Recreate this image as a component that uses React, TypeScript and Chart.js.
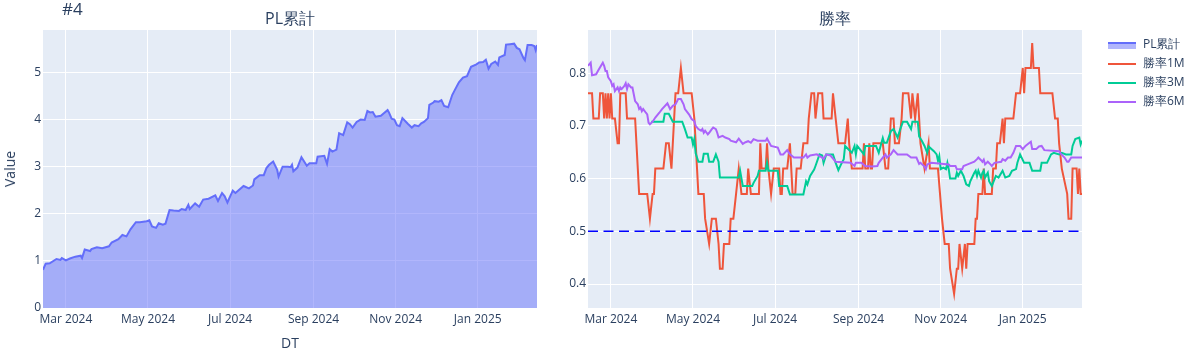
import React, { useEffect, useRef } from 'react';
import { Chart, registerables } from 'chart.js';

Chart.register(...registerables);

// ---------------- data ----------------
const X_RANGE = ['2024-02-13', '2025-02-14'];
const X_TICKS = ['2024-03-01', '2024-05-01', '2024-07-01', '2024-09-01', '2024-11-01', '2025-01-01'];
const PL_Y_TICKS = [0, 1, 2, 3, 4, 5];
const PL_Y_MAX = 5.9;
const WR_Y_TICKS = [0.4, 0.5, 0.6, 0.7, 0.8];
const WR_Y_RANGE = [0.3545, 0.882];
const REF_LINE = 0.5;

const PL_DATES = [
  '2024-02-13', '2024-02-15', '2024-02-18', '2024-02-23', '2024-02-26', '2024-02-27', '2024-03-01', '2024-03-04', '2024-03-08', '2024-03-12',
  '2024-03-13', '2024-03-15', '2024-03-19', '2024-03-20', '2024-03-24', '2024-03-28', '2024-04-02', '2024-04-04', '2024-04-09', '2024-04-12',
  '2024-04-15', '2024-04-18', '2024-04-22', '2024-04-25', '2024-04-30', '2024-05-02', '2024-05-04', '2024-05-07', '2024-05-09', '2024-05-12',
  '2024-05-14', '2024-05-17', '2024-05-20', '2024-05-24', '2024-05-26', '2024-05-29', '2024-05-31', '2024-06-01', '2024-06-05', '2024-06-08',
  '2024-06-11', '2024-06-15', '2024-06-20', '2024-06-22', '2024-06-25', '2024-06-27', '2024-06-29', '2024-07-03', '2024-07-05', '2024-07-11',
  '2024-07-15', '2024-07-18', '2024-07-19', '2024-07-23', '2024-07-26', '2024-07-28', '2024-07-30', '2024-08-02', '2024-08-05', '2024-08-06',
  '2024-08-09', '2024-08-13', '2024-08-15', '2024-08-16', '2024-08-17', '2024-08-20', '2024-08-23', '2024-08-27', '2024-08-29', '2024-09-03',
  '2024-09-04', '2024-09-09', '2024-09-11', '2024-09-13', '2024-09-15', '2024-09-18', '2024-09-20', '2024-09-23', '2024-09-26', '2024-09-28',
  '2024-09-30', '2024-10-03', '2024-10-06', '2024-10-09', '2024-10-11', '2024-10-13', '2024-10-15', '2024-10-17', '2024-10-21', '2024-10-23',
  '2024-10-26', '2024-10-27', '2024-10-29', '2024-10-31', '2024-11-02', '2024-11-04', '2024-11-06', '2024-11-10', '2024-11-13', '2024-11-15',
  '2024-11-18', '2024-11-20', '2024-11-22', '2024-11-25', '2024-11-26', '2024-11-29', '2024-11-30', '2024-12-03', '2024-12-05', '2024-12-07',
  '2024-12-10', '2024-12-13', '2024-12-15', '2024-12-18', '2024-12-21', '2024-12-24', '2024-12-27', '2024-12-31', '2025-01-02', '2025-01-05',
  '2025-01-07', '2025-01-09', '2025-01-11', '2025-01-14', '2025-01-16', '2025-01-17', '2025-01-21', '2025-01-22', '2025-01-25', '2025-01-28',
  '2025-01-30', '2025-02-01', '2025-02-04', '2025-02-05', '2025-02-07', '2025-02-10', '2025-02-12', '2025-02-13', '2025-02-14',
];
const PL_VALUES = [
  0.81, 0.94, 0.95, 1.04, 1.02, 1.06, 1.01, 1.05, 1.09, 1.11,
  1.06, 1.24, 1.21, 1.25, 1.29, 1.27, 1.31, 1.39, 1.46, 1.55,
  1.52, 1.67, 1.82, 1.82, 1.84, 1.86, 1.73, 1.70, 1.80, 1.77,
  1.79, 2.08, 2.07, 2.06, 2.10, 2.08, 2.19, 2.10, 2.22, 2.15,
  2.30, 2.32, 2.39, 2.27, 2.44, 2.37, 2.24, 2.49, 2.44, 2.59,
  2.54, 2.60, 2.73, 2.82, 2.82, 2.97, 3.04, 3.11, 2.93, 2.79,
  3.00, 3.00, 2.99, 3.04, 2.90, 2.98, 3.20, 3.02, 3.07, 3.07,
  3.21, 3.23, 3.06, 3.37, 3.32, 3.36, 3.71, 3.67, 3.94, 3.90,
  3.83, 3.95, 4.00, 3.99, 4.18, 4.15, 4.16, 4.06, 4.08, 4.13,
  4.20, 4.15, 4.02, 4.00, 3.88, 3.86, 4.03, 3.91, 3.83, 3.88,
  3.86, 3.92, 3.95, 4.03, 4.31, 4.36, 4.39, 4.38, 4.41, 4.29,
  4.26, 4.52, 4.63, 4.79, 4.89, 4.92, 5.12, 5.17, 5.21, 5.22,
  5.27, 5.08, 5.18, 5.23, 5.16, 5.32, 5.37, 5.59, 5.60, 5.61,
  5.52, 5.49, 5.30, 5.26, 5.58, 5.58, 5.56, 5.47, 5.58,
];

const WR1M_DATES = [
  '2024-02-13', '2024-02-16', '2024-02-17', '2024-02-21', '2024-02-22', '2024-02-24', '2024-02-25', '2024-02-26', '2024-02-27', '2024-02-28',
  '2024-02-29', '2024-03-01', '2024-03-02', '2024-03-04', '2024-03-06', '2024-03-07', '2024-03-08', '2024-03-12', '2024-03-13', '2024-03-19',
  '2024-03-21', '2024-03-22', '2024-03-28', '2024-03-30', '2024-04-01', '2024-04-02', '2024-04-03', '2024-04-09', '2024-04-11', '2024-04-13',
  '2024-04-15', '2024-04-17', '2024-04-18', '2024-04-20', '2024-04-22', '2024-04-24', '2024-04-30', '2024-05-02', '2024-05-03', '2024-05-04',
  '2024-05-05', '2024-05-09', '2024-05-10', '2024-05-13', '2024-05-15', '2024-05-18', '2024-05-20', '2024-05-21', '2024-05-23', '2024-05-24',
  '2024-05-28', '2024-05-29', '2024-05-31', '2024-06-02', '2024-06-04', '2024-06-06', '2024-06-10', '2024-06-11', '2024-06-13', '2024-06-19',
  '2024-06-20', '2024-06-21', '2024-06-24', '2024-06-25', '2024-06-26', '2024-06-28', '2024-06-30', '2024-07-04', '2024-07-05', '2024-07-06',
  '2024-07-07', '2024-07-10', '2024-07-12', '2024-07-13', '2024-07-14', '2024-07-16', '2024-07-17', '2024-07-20', '2024-07-22', '2024-07-25',
  '2024-07-26', '2024-07-28', '2024-07-30', '2024-07-31', '2024-08-02', '2024-08-05', '2024-08-06', '2024-08-12', '2024-08-13', '2024-08-15',
  '2024-08-17', '2024-08-22', '2024-08-24', '2024-08-25', '2024-08-27', '2024-09-04', '2024-09-05', '2024-09-06', '2024-09-08', '2024-09-09',
  '2024-09-10', '2024-09-11', '2024-09-12', '2024-09-19', '2024-09-21', '2024-09-23', '2024-09-25', '2024-09-27', '2024-09-28', '2024-10-01',
  '2024-10-03', '2024-10-04', '2024-10-08', '2024-10-10', '2024-10-11', '2024-10-13', '2024-10-15', '2024-10-17', '2024-10-20', '2024-10-23',
  '2024-10-24', '2024-10-30', '2024-11-02', '2024-11-04', '2024-11-07', '2024-11-08', '2024-11-11', '2024-11-13', '2024-11-14', '2024-11-15',
  '2024-11-17', '2024-11-19', '2024-11-20', '2024-11-21', '2024-11-26', '2024-11-27', '2024-11-28', '2024-11-29', '2024-12-02', '2024-12-03',
  '2024-12-04', '2024-12-09', '2024-12-10', '2024-12-12', '2024-12-13', '2024-12-15', '2024-12-17', '2024-12-18', '2024-12-19', '2024-12-25',
  '2024-12-27', '2024-12-30', '2025-01-01', '2025-01-02', '2025-01-03', '2025-01-07', '2025-01-08', '2025-01-09', '2025-01-13', '2025-01-14',
  '2025-01-23', '2025-01-25', '2025-01-27', '2025-01-28', '2025-01-30', '2025-02-03', '2025-02-04', '2025-02-06', '2025-02-07', '2025-02-10',
  '2025-02-11', '2025-02-12', '2025-02-13', '2025-02-14',
];
const WR1M_VALUES = [
  0.762, 0.762, 0.714, 0.714, 0.762, 0.762, 0.714, 0.762, 0.714, 0.762,
  0.714, 0.762, 0.714, 0.714, 0.667, 0.667, 0.762, 0.762, 0.714, 0.714,
  0.619, 0.571, 0.571, 0.524, 0.571, 0.571, 0.619, 0.619, 0.667, 0.667,
  0.619, 0.714, 0.762, 0.762, 0.810, 0.762, 0.762, 0.714, 0.667, 0.619,
  0.571, 0.571, 0.524, 0.476, 0.524, 0.524, 0.476, 0.429, 0.429, 0.476,
  0.476, 0.524, 0.524, 0.571, 0.619, 0.571, 0.571, 0.619, 0.571, 0.571,
  0.667, 0.619, 0.619, 0.667, 0.619, 0.571, 0.619, 0.619, 0.571, 0.571,
  0.619, 0.619, 0.667, 0.619, 0.571, 0.571, 0.619, 0.619, 0.667, 0.667,
  0.714, 0.762, 0.762, 0.714, 0.762, 0.762, 0.714, 0.714, 0.762, 0.714,
  0.667, 0.667, 0.714, 0.667, 0.619, 0.619, 0.667, 0.619, 0.619, 0.667,
  0.619, 0.619, 0.667, 0.667, 0.619, 0.619, 0.714, 0.714, 0.667, 0.667,
  0.714, 0.762, 0.762, 0.714, 0.762, 0.714, 0.762, 0.667, 0.619, 0.667,
  0.619, 0.619, 0.524, 0.476, 0.476, 0.429, 0.381, 0.429, 0.429, 0.476,
  0.429, 0.476, 0.429, 0.476, 0.476, 0.524, 0.524, 0.571, 0.571, 0.619,
  0.571, 0.571, 0.619, 0.619, 0.667, 0.667, 0.714, 0.667, 0.714, 0.714,
  0.762, 0.762, 0.810, 0.762, 0.810, 0.810, 0.857, 0.810, 0.810, 0.762,
  0.762, 0.714, 0.714, 0.667, 0.619, 0.571, 0.524, 0.524, 0.619, 0.619,
  0.571, 0.619, 0.571, 0.571,
];

const WR3M_DATES = [
  '2024-03-31', '2024-04-09', '2024-04-10', '2024-04-13', '2024-04-16', '2024-04-23', '2024-04-25', '2024-04-27', '2024-04-30', '2024-05-01',
  '2024-05-02', '2024-05-03', '2024-05-05', '2024-05-08', '2024-05-09', '2024-05-12', '2024-05-13', '2024-05-16', '2024-05-18', '2024-05-20',
  '2024-05-21', '2024-06-04', '2024-06-05', '2024-06-07', '2024-06-14', '2024-06-15', '2024-06-18', '2024-06-19', '2024-06-24', '2024-06-25',
  '2024-06-26', '2024-07-03', '2024-07-04', '2024-07-10', '2024-07-12', '2024-07-22', '2024-07-24', '2024-07-25', '2024-07-27', '2024-07-30',
  '2024-07-31', '2024-08-03', '2024-08-05', '2024-08-06', '2024-08-08', '2024-08-13', '2024-08-15', '2024-08-17', '2024-08-19', '2024-08-21',
  '2024-08-22', '2024-08-27', '2024-08-29', '2024-08-30', '2024-08-31', '2024-09-05', '2024-09-06', '2024-09-14', '2024-09-16', '2024-09-19',
  '2024-09-20', '2024-09-22', '2024-09-25', '2024-09-27', '2024-09-30', '2024-10-02', '2024-10-04', '2024-10-07', '2024-10-10', '2024-10-11',
  '2024-10-15', '2024-10-16', '2024-10-18', '2024-10-20', '2024-10-22', '2024-10-23', '2024-10-27', '2024-10-29', '2024-10-30', '2024-10-31',
  '2024-11-01', '2024-11-03', '2024-11-05', '2024-11-06', '2024-11-07', '2024-11-08', '2024-11-12', '2024-11-13', '2024-11-14', '2024-11-16',
  '2024-11-18', '2024-11-20', '2024-11-22', '2024-11-23', '2024-11-26', '2024-11-27', '2024-11-28', '2024-11-29', '2024-12-01', '2024-12-02',
  '2024-12-03', '2024-12-04', '2024-12-06', '2024-12-07', '2024-12-09', '2024-12-12', '2024-12-14', '2024-12-17', '2024-12-19', '2024-12-22',
  '2024-12-24', '2024-12-27', '2024-12-28', '2024-12-30', '2025-01-02', '2025-01-06', '2025-01-08', '2025-01-14', '2025-01-15', '2025-01-19',
  '2025-01-22', '2025-01-24', '2025-01-28', '2025-01-30', '2025-02-02', '2025-02-06', '2025-02-07', '2025-02-09', '2025-02-12', '2025-02-13',
  '2025-02-14',
];
const WR3M_VALUES = [
  0.708, 0.708, 0.723, 0.723, 0.708, 0.708, 0.694, 0.678, 0.678, 0.665,
  0.675, 0.648, 0.632, 0.632, 0.647, 0.647, 0.632, 0.632, 0.646, 0.632,
  0.602, 0.602, 0.615, 0.586, 0.586, 0.592, 0.605, 0.615, 0.615, 0.630,
  0.615, 0.615, 0.586, 0.586, 0.570, 0.570, 0.595, 0.589, 0.605, 0.617,
  0.624, 0.646, 0.644, 0.630, 0.646, 0.646, 0.630, 0.616, 0.627, 0.637,
  0.662, 0.649, 0.662, 0.646, 0.662, 0.646, 0.662, 0.662, 0.649, 0.677,
  0.668, 0.668, 0.690, 0.694, 0.678, 0.694, 0.708, 0.708, 0.694, 0.708,
  0.708, 0.680, 0.672, 0.662, 0.649, 0.661, 0.652, 0.646, 0.634, 0.643,
  0.618, 0.621, 0.618, 0.630, 0.618, 0.600, 0.600, 0.611, 0.605, 0.615,
  0.605, 0.589, 0.586, 0.595, 0.611, 0.615, 0.605, 0.615, 0.602, 0.611,
  0.615, 0.602, 0.611, 0.595, 0.586, 0.605, 0.602, 0.615, 0.602, 0.605,
  0.615, 0.618, 0.630, 0.646, 0.630, 0.630, 0.615, 0.615, 0.630, 0.630,
  0.646, 0.649, 0.646, 0.649, 0.646, 0.646, 0.662, 0.675, 0.678, 0.665,
  0.672,
];

const WR6M_DATES = [
  '2024-02-13', '2024-02-15', '2024-02-16', '2024-02-19', '2024-02-21', '2024-02-24', '2024-02-25', '2024-02-26', '2024-02-27', '2024-02-28',
  '2024-03-01', '2024-03-02', '2024-03-03', '2024-03-04', '2024-03-06', '2024-03-07', '2024-03-08', '2024-03-09', '2024-03-11', '2024-03-12',
  '2024-03-13', '2024-03-14', '2024-03-16', '2024-03-17', '2024-03-18', '2024-03-19', '2024-03-21', '2024-03-22', '2024-03-23', '2024-03-24',
  '2024-03-25', '2024-03-27', '2024-03-28', '2024-03-29', '2024-03-30', '2024-04-01', '2024-04-03', '2024-04-06', '2024-04-08', '2024-04-12',
  '2024-04-14', '2024-04-16', '2024-04-18', '2024-04-20', '2024-04-22', '2024-04-24', '2024-04-25', '2024-04-28', '2024-04-30', '2024-05-02',
  '2024-05-03', '2024-05-05', '2024-05-07', '2024-05-08', '2024-05-09', '2024-05-10', '2024-05-12', '2024-05-13', '2024-05-15', '2024-05-16',
  '2024-05-18', '2024-05-19', '2024-05-20', '2024-05-23', '2024-05-25', '2024-05-28', '2024-05-29', '2024-06-02', '2024-06-04', '2024-06-07',
  '2024-06-09', '2024-06-11', '2024-06-13', '2024-06-15', '2024-06-18', '2024-06-24', '2024-06-25', '2024-06-28', '2024-07-03', '2024-07-05',
  '2024-07-07', '2024-07-10', '2024-07-12', '2024-07-15', '2024-07-22', '2024-07-24', '2024-07-25', '2024-07-27', '2024-08-01', '2024-08-05',
  '2024-08-06', '2024-08-08', '2024-08-11', '2024-08-15', '2024-08-26', '2024-08-29', '2024-08-30', '2024-09-03', '2024-09-06', '2024-09-11',
  '2024-09-15', '2024-09-16', '2024-09-19', '2024-09-21', '2024-09-22', '2024-09-25', '2024-09-27', '2024-09-30', '2024-10-07', '2024-10-10',
  '2024-10-12', '2024-10-14', '2024-10-16', '2024-10-17', '2024-10-20', '2024-10-21', '2024-10-22', '2024-10-25', '2024-11-07', '2024-11-08',
  '2024-11-12', '2024-11-13', '2024-11-17', '2024-11-18', '2024-11-21', '2024-11-26', '2024-11-28', '2024-11-29', '2024-12-01', '2024-12-02',
  '2024-12-03', '2024-12-04', '2024-12-06', '2024-12-08', '2024-12-09', '2024-12-11', '2024-12-16', '2024-12-17', '2024-12-19', '2024-12-21',
  '2024-12-23', '2024-12-25', '2024-12-27', '2024-12-30', '2025-01-01', '2025-01-03', '2025-01-06', '2025-01-07', '2025-01-08', '2025-01-11',
  '2025-01-13', '2025-01-15', '2025-01-17', '2025-01-28', '2025-01-29', '2025-02-01', '2025-02-03', '2025-02-04', '2025-02-06', '2025-02-14',
];
const WR6M_VALUES = [
  0.814, 0.820, 0.796, 0.798, 0.807, 0.820, 0.814, 0.804, 0.804, 0.792,
  0.785, 0.776, 0.779, 0.766, 0.773, 0.766, 0.773, 0.770, 0.776, 0.781,
  0.770, 0.779, 0.773, 0.773, 0.760, 0.747, 0.741, 0.732, 0.735, 0.728,
  0.732, 0.725, 0.722, 0.706, 0.703, 0.708, 0.716, 0.725, 0.732, 0.743,
  0.732, 0.738, 0.741, 0.751, 0.751, 0.741, 0.732, 0.722, 0.713, 0.709,
  0.700, 0.694, 0.691, 0.694, 0.687, 0.691, 0.684, 0.687, 0.694, 0.697,
  0.694, 0.687, 0.678, 0.681, 0.678, 0.675, 0.672, 0.669, 0.676, 0.666,
  0.669, 0.671, 0.668, 0.675, 0.672, 0.672, 0.676, 0.662, 0.659, 0.646,
  0.646, 0.654, 0.646, 0.640, 0.640, 0.646, 0.640, 0.644, 0.646, 0.640,
  0.637, 0.646, 0.644, 0.632, 0.630, 0.624, 0.630, 0.630, 0.624, 0.623,
  0.624, 0.630, 0.640, 0.646, 0.640, 0.646, 0.654, 0.646, 0.646, 0.640,
  0.640, 0.640, 0.628, 0.630, 0.623, 0.618, 0.627, 0.630, 0.627, 0.624,
  0.624, 0.618, 0.618, 0.624, 0.627, 0.632, 0.637, 0.640, 0.635, 0.632,
  0.636, 0.627, 0.632, 0.627, 0.624, 0.630, 0.632, 0.637, 0.634, 0.640,
  0.640, 0.649, 0.662, 0.662, 0.656, 0.662, 0.668, 0.670, 0.656, 0.656,
  0.661, 0.662, 0.654, 0.652, 0.648, 0.640, 0.632, 0.632, 0.640, 0.640,
];

// ---------------- helpers ----------------
const MONTHS = ['Jan', 'Feb', 'Mar', 'Apr', 'May', 'Jun', 'Jul', 'Aug', 'Sep', 'Oct', 'Nov', 'Dec'];
const toTs = (s: string) => Date.parse(s + 'T00:00:00Z');
const fmtMonth = (v: number) => {
  const d = new Date(v);
  return MONTHS[d.getUTCMonth()] + ' ' + d.getUTCFullYear();
};
const pts = (dates: string[], vals: number[]) =>
  vals.slice(0, Math.min(dates.length, vals.length)).map((v, i) => ({ x: toTs(dates[i]), y: v }));

const W = 1201;
const H = 360;
const PLOT_TOP = 30;
const PLOT_BOTTOM = 308;
const XAXIS_H = 30;
const FONT = '"Open Sans", verdana, arial, sans-serif';
const TXT = '#2a3f5f';

const bgPlugin = {
  id: 'plotBg',
  beforeDraw(chart: any) {
    const { ctx, chartArea } = chart;
    ctx.save();
    ctx.fillStyle = '#E5ECF6';
    ctx.fillRect(chartArea.left, chartArea.top, chartArea.right - chartArea.left, chartArea.bottom - chartArea.top);
    ctx.restore();
  },
};

function makeScales(yTicks: number[], yMin: number, yMax: number, yWidth: number, yFmt: (v: number) => string) {
  return {
    x: {
      type: 'linear' as const,
      min: toTs(X_RANGE[0]),
      max: toTs(X_RANGE[1]),
      grid: { color: '#ffffff', lineWidth: 1, drawTicks: false },
      border: { display: false },
      ticks: {
        color: TXT,
        font: { size: 12, family: FONT },
        padding: 4,
        maxRotation: 0,
        autoSkip: false,
        callback: (v: any) => fmtMonth(Number(v)),
      },
      afterBuildTicks: (s: any) => {
        s.ticks = X_TICKS.map((d) => ({ value: toTs(d) }));
      },
      afterFit: (s: any) => {
        s.height = XAXIS_H;
      },
    },
    y: {
      type: 'linear' as const,
      min: yMin,
      max: yMax,
      grid: { color: '#ffffff', lineWidth: 1, drawTicks: false },
      border: { display: false },
      ticks: {
        color: TXT,
        font: { size: 12, family: FONT },
        padding: 2,
        callback: (v: any) => yFmt(Number(v)),
      },
      afterBuildTicks: (s: any) => {
        s.ticks = yTicks.map((v) => ({ value: v }));
      },
      afterFit: (s: any) => {
        s.width = yWidth;
      },
    },
  };
}

function PLChart() {
  const ref = useRef<HTMLCanvasElement>(null);
  useEffect(() => {
    if (!ref.current) return;
    const chart = new Chart(ref.current, {
      type: 'line',
      data: {
        datasets: [
          {
            label: 'PL累計',
            data: pts(PL_DATES, PL_VALUES),
            borderColor: '#636EFA',
            backgroundColor: 'rgba(99,110,250,0.5)',
            borderWidth: 2,
            pointRadius: 0,
            fill: 'origin',
            tension: 0,
          },
        ],
      },
      options: {
        responsive: false,
        animation: false,
        events: [],
        layout: { padding: { left: 0, right: W - 537, top: PLOT_TOP, bottom: H - PLOT_BOTTOM - XAXIS_H } },
        plugins: { legend: { display: false }, tooltip: { enabled: false } },
        scales: makeScales(PL_Y_TICKS, 0, PL_Y_MAX, 43, (v) => String(v)),
      } as any,
      plugins: [bgPlugin],
    });
    return () => chart.destroy();
  }, []);
  return <canvas ref={ref} width={W} height={H} style={{ position: 'absolute', left: 0, top: 0 }} />;
}

function WinRateChart() {
  const ref = useRef<HTMLCanvasElement>(null);
  useEffect(() => {
    if (!ref.current) return;
    const xMin = toTs(X_RANGE[0]);
    const xMax = toTs(X_RANGE[1]);
    const chart = new Chart(ref.current, {
      type: 'line',
      data: {
        datasets: [
          {
            label: '勝率1M',
            data: pts(WR1M_DATES, WR1M_VALUES),
            borderColor: '#EF553B',
            borderWidth: 2,
            pointRadius: 0,
            fill: false,
            order: 3,
          },
          {
            label: '勝率3M',
            data: pts(WR3M_DATES, WR3M_VALUES),
            borderColor: '#00CC96',
            borderWidth: 2,
            pointRadius: 0,
            fill: false,
            order: 2,
          },
          {
            label: '勝率6M',
            data: pts(WR6M_DATES, WR6M_VALUES),
            borderColor: '#AB63FA',
            borderWidth: 2,
            pointRadius: 0,
            fill: false,
            order: 1,
          },
          {
            label: 'ref',
            data: [
              { x: xMin, y: REF_LINE },
              { x: xMax, y: REF_LINE },
            ],
            borderColor: '#0000FF',
            borderWidth: 1.5,
            borderDash: [10, 5.5],
            pointRadius: 0,
            fill: false,
            order: 0,
          },
        ],
      },
      options: {
        responsive: false,
        animation: false,
        events: [],
        layout: { padding: { left: 588 - 40, right: W - 1082, top: PLOT_TOP, bottom: H - PLOT_BOTTOM - XAXIS_H } },
        plugins: { legend: { display: false }, tooltip: { enabled: false } },
        scales: makeScales(WR_Y_TICKS, WR_Y_RANGE[0], WR_Y_RANGE[1], 40, (v) => v.toFixed(1)),
      } as any,
      plugins: [bgPlugin],
    });
    return () => chart.destroy();
  }, []);
  return <canvas ref={ref} width={W} height={H} style={{ position: 'absolute', left: 0, top: 0 }} />;
}

const LEGEND = [
  { label: 'PL累計', color: '#636EFA', fill: true, cy: 44.5 },
  { label: '勝率1M', color: '#EF553B', fill: false, cy: 63.5 },
  { label: '勝率3M', color: '#00CC96', fill: false, cy: 82.5 },
  { label: '勝率6M', color: '#AB63FA', fill: false, cy: 101.5 },
];

function Text({ x, cy, size, children, anchor = 'middle', rotate = false }: any) {
  const style: React.CSSProperties = {
    position: 'absolute',
    left: x,
    top: cy - size * 0.53,
    fontSize: size,
    lineHeight: 1,
    fontFamily: FONT,
    color: TXT,
    whiteSpace: 'nowrap',
    transform: anchor === 'middle' ? 'translateX(-50%)' : undefined,
  };
  if (rotate) {
    style.top = cy;
    style.transform = 'translate(-50%, -50%) rotate(-90deg)';
  }
  return <div style={style}>{children}</div>;
}

export default function App() {
  useEffect(() => {
    document.body.style.margin = '0';
    Chart.defaults.font.family = FONT;
  }, []);
  return (
    <div style={{ position: 'relative', width: W, height: H, background: '#fff', overflow: 'hidden' }}>
      <PLChart />
      <WinRateChart />
      <Text x={62} cy={9.5} size={17} anchor="start">#4</Text>
      <Text x={290} cy={18} size={16}>PL累計</Text>
      <Text x={835} cy={18} size={16}>勝率</Text>
      <Text x={290} cy={343} size={14}>DT</Text>
      <Text x={10} cy={169} size={14} rotate>Value</Text>
      {LEGEND.map((item) => (
        <React.Fragment key={item.label}>
          {item.fill ? (
            <div
              style={{
                position: 'absolute',
                left: 1108,
                top: item.cy - 3,
                width: 28,
                height: 7,
                background: 'rgba(99,110,250,0.5)',
                borderTop: `2px solid ${item.color}`,
                boxSizing: 'border-box',
              }}
            />
          ) : (
            <div
              style={{
                position: 'absolute',
                left: 1108,
                top: item.cy - 1,
                width: 28,
                height: 2,
                background: item.color,
              }}
            />
          )}
          <Text x={1143} cy={item.cy} size={12} anchor="start">{item.label}</Text>
        </React.Fragment>
      ))}
    </div>
  );
}
